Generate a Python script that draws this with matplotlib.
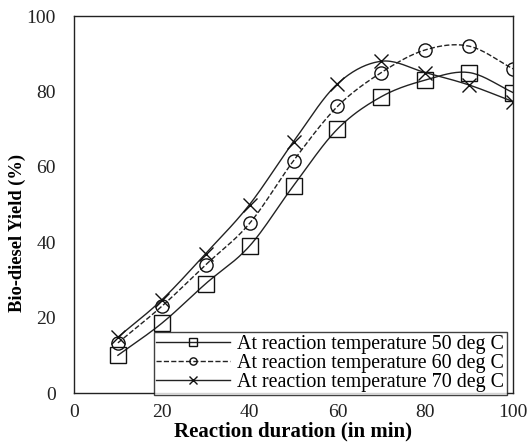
import numpy as np
import matplotlib
matplotlib.use('Agg')
import matplotlib.pyplot as plt

plt.rcParams['font.family'] = ['Liberation Serif', 'DejaVu Serif']

duration = [10, 20, 30, 40, 50, 60, 70, 80, 90, 100]
yield_50 = [10, 18.5, 29, 39, 55, 70, 78.6, 83, 85, 79.7]
yield_60 = [13.3, 23, 34, 45, 61.6, 76, 85, 91, 92, 86]
yield_70 = [14.8, 24.7, 37, 50, 66.7, 82, 88, 85, 81.7, 77.3]

labels = ['At reaction temperature 50 deg C',
          'At reaction temperature 60 deg C',
          'At reaction temperature 70 deg C']


def smooth(x, y, n=20):
    # catmull-rom curve through the points, like a smoothed scatter line
    x = np.asarray(x, float)
    y = np.asarray(y, float)
    px = np.concatenate([[2 * x[0] - x[1]], x, [2 * x[-1] - x[-2]]])
    py = np.concatenate([[2 * y[0] - y[1]], y, [2 * y[-1] - y[-2]]])
    xs, ys = [], []
    t = np.linspace(0, 1, n, endpoint=False)
    for i in range(1, len(px) - 2):
        for p, out in ((px, xs), (py, ys)):
            p0, p1, p2, p3 = p[i - 1], p[i], p[i + 1], p[i + 2]
            out.extend(0.5 * (2 * p1 + (-p0 + p2) * t
                              + (2 * p0 - 5 * p1 + 4 * p2 - p3) * t ** 2
                              + (-p0 + 3 * p1 - 3 * p2 + p3) * t ** 3))
    xs.append(x[-1])
    ys.append(y[-1])
    return np.array(xs), np.array(ys)


fig = plt.figure(figsize=(5.28, 4.48), dpi=100)
ax = fig.add_axes([74 / 528, 1 - 393 / 448, 439 / 528, 377 / 448])

styles = [('s', '-', 11, 'k'), ('o', '--', 9.5, 'k'), ('x', '-', 10.5, 'k')]
handles = []
for ys, (mk, ls, ms, c), lab in zip([yield_50, yield_60, yield_70], styles, labels):
    sx, sy = smooth(duration, ys)
    ax.plot(sx, sy, ls=ls, color='#222222', lw=1.0)
    ax.plot(duration, ys, ls='none', marker=mk, ms=ms, mfc='none',
            mec='#111111', mew=1.0)
    h, = ax.plot([], [], ls=ls, color='#222222', lw=1.0, marker=mk,
                 ms=ms * 0.55, mfc='none', mec='#111111', mew=1.0, label=lab)
    handles.append(h)

ax.set_xlim(0, 100)
ax.set_ylim(0, 100)
ax.set_xticks([0, 20, 40, 60, 80, 100])
ax.set_yticks([0, 20, 40, 60, 80, 100])
ax.tick_params(length=0, labelsize=14, colors='#222222')
ax.tick_params(axis='x', pad=8)
ax.tick_params(axis='y', pad=13)
for s in ax.spines.values():
    s.set_linewidth(1.0)
    s.set_color('#222222')

ax.set_xlabel('Reaction duration (in min)', fontsize=15, fontweight='bold', labelpad=0)
ax.set_ylabel('Bio-diesel Yield (%)', fontsize=13.3, fontweight='bold')
ax.yaxis.set_label_coords(-0.128, 0.424)
ax.yaxis.label.set_verticalalignment('center')

leg = ax.legend(handles=handles, loc='lower right', bbox_to_anchor=(0.986, -0.005),
                fontsize=14.4, frameon=True, fancybox=False, borderaxespad=0,
                handlelength=3.7, handletextpad=0.35, borderpad=0.12,
                labelspacing=0.02)
leg.get_frame().set_edgecolor('#111111')
leg.get_frame().set_linewidth(1.0)

fig.savefig('out.png', dpi=100)
